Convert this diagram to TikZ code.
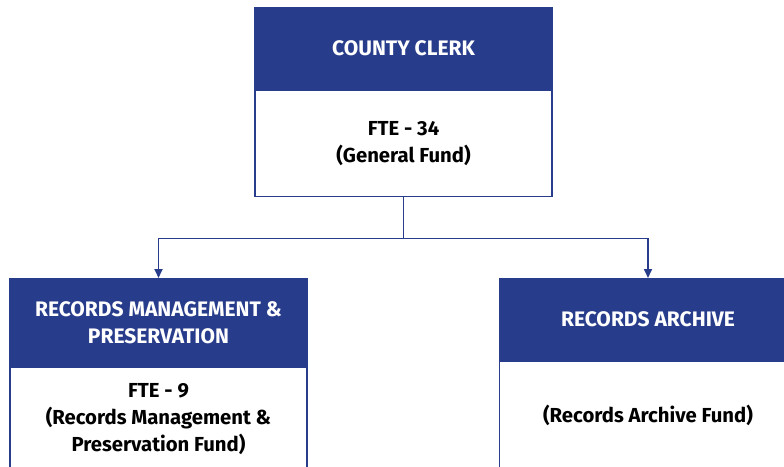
\documentclass[tikz,border=0pt]{standalone}
\usepackage{fontspec}
\setmainfont{Fira Sans}
\usetikzlibrary{
  positioning,           % below=... of ...
  arrows.meta            % Triangle tips on the links
}
\definecolor{clerkblue}{RGB}{40,60,140}

\begin{document}
\begin{tikzpicture}[x=1pt, y=-1pt,
    headbox/.style={draw=clerkblue, fill=clerkblue, line width=1.2pt, text=white,
      font=\bfseries\fontsize{21}{27}\selectfont, align=center,
      minimum width=297pt, inner sep=0pt, anchor=north},
    bodybox/.style={draw=clerkblue, fill=white, line width=1.2pt, text=black,
      font=\bfseries\fontsize{20.3}{27}\selectfont, align=center,
      minimum width=297pt, inner sep=0pt, anchor=north},
    link/.style={draw=clerkblue, line width=1.7pt}]
          \def\wBox{297}       % Width of every box
          \def\yTop{7}         % Top edge of the clerk box
          \def\yLow{278}       % Top edge of the two lower boxes
          \useasboundingbox (0,0) rectangle (784,466);
          \clip (0,0) rectangle (784,466);
          % clerk
          \node[headbox, minimum height=82pt] (clerkhead) at (403.5,\yTop) {COUNTY CLERK};
          \node[bodybox, minimum height=106pt, below=0pt of clerkhead] (clerkbody)
            {FTE - 34\\(General Fund)};
          % records management
          \node[headbox, minimum height=88pt] (rmphead) at (158.5,\yLow)
            {RECORDS MANAGEMENT \&\\PRESERVATION};
          \node[bodybox, minimum height=102pt, below=0pt of rmphead] (rmpbody)
            {FTE - 9\\(Records Management \&\\Preservation Fund)};
          % records archive
          \node[headbox, minimum height=82pt] (archhead) at (648,\yLow) {RECORDS ARCHIVE};
          \node[bodybox, minimum height=108pt, below=0pt of archhead] (archbody)
            {(Records Archive Fund)};
          % links
          \coordinate[below=41pt of clerkbody.south] (split);
          \draw[link] (clerkbody.south) -- (split);
          \draw[link, -{Triangle[width=8pt,length=9pt]}] (split) -| (rmphead.north);
          \draw[link, -{Triangle[width=8pt,length=9pt]}] (split) -| (archhead.north);
        \end{tikzpicture}
\end{document}
